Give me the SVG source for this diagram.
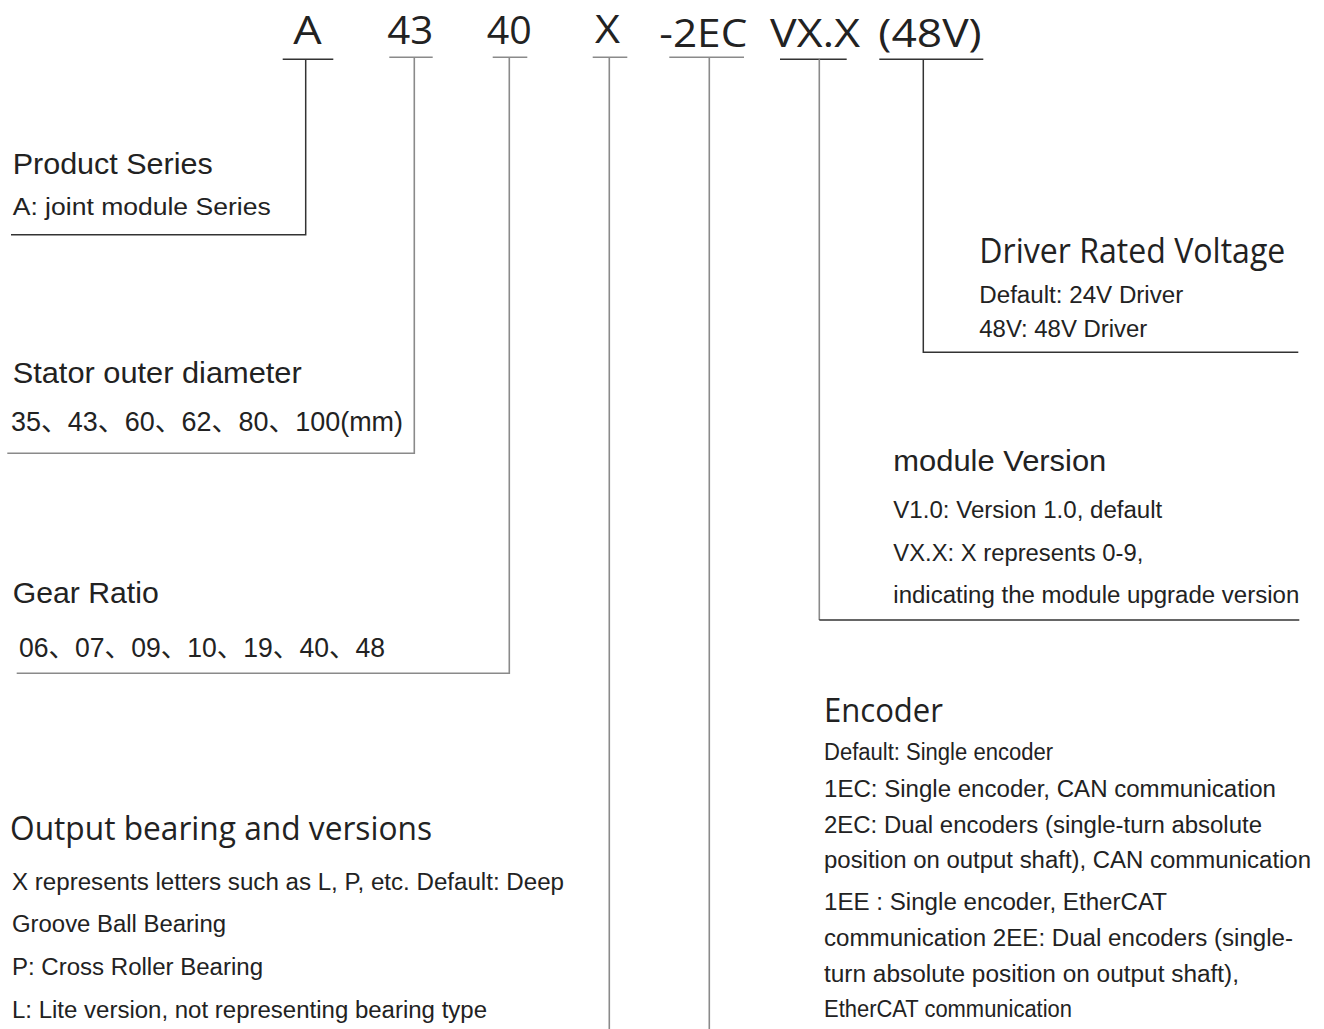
<svg xmlns="http://www.w3.org/2000/svg" width="1324" height="1029" viewBox="0 0 1324 1029">
<style>
.code{font-family:"Open Sans","Liberation Sans",sans-serif;font-size:39px;fill:#222}
.h-a{font-family:"Liberation Sans",Arial,sans-serif;fill:#222}
.h-s{font-family:"Open Sans","Liberation Sans",sans-serif;fill:#222}
.b{font-family:"Liberation Sans",Arial,sans-serif;fill:#222;font-size:23px}
.n{font-family:"Liberation Sans","Noto Sans CJK SC",sans-serif;fill:#222;font-size:27px}
.dk{stroke:#333;stroke-width:1.5;fill:none}
.gy{stroke:#8a8a8a;stroke-width:1.6;fill:none}
</style>
<rect width="1324" height="1029" fill="#fff"/>
<g id="code">
<text class="code" x="293.3" y="44.3" textLength="28.4" lengthAdjust="spacingAndGlyphs">A</text>
<text class="code" x="387.3" y="44.3" textLength="46" lengthAdjust="spacingAndGlyphs">43</text>
<text class="code" x="486.7" y="44.3" textLength="45" lengthAdjust="spacingAndGlyphs">40</text>
<text class="code" x="595" y="42.7" textLength="25" lengthAdjust="spacingAndGlyphs">X</text>
<text class="code" x="659.3" y="46.7" textLength="88" lengthAdjust="spacingAndGlyphs">-2EC</text>
<text class="code" x="770" y="46.7" textLength="90" lengthAdjust="spacingAndGlyphs">VX.X</text>
<text class="code" x="878.3" y="46.7" textLength="103.4" lengthAdjust="spacingAndGlyphs">(48V)</text>
</g>
<g id="connectors">
<path class="dk" d="M282.7 59.3H333.3M305.7 59.3V234.7H11"/>
<path class="gy" d="M389.3 57.3H432.7M414.3 57.3V453.3H7.3"/>
<path class="gy" d="M492.7 57.3H527.3M509.3 57.3V673.3H16.7"/>
<path class="gy" d="M592.7 57.3H627.3M609.3 57.3V1029"/>
<path class="gy" d="M669.3 57.3H744M709.3 57.3V1029"/>
<path class="dk" d="M780 59.3H846.7"/>
<path class="gy" d="M819.3 59.3V620"/>
<path class="dk" d="M819.3 620H1299.3"/>
<path class="dk" d="M879.3 59.3H983.3M923.3 59.3V352.3H1298.3"/>
</g>
<g id="product-series">
<text class="h-a" x="12.7" y="174" font-size="29" textLength="200" lengthAdjust="spacingAndGlyphs">Product Series</text>
<text class="b" x="12.7" y="215" font-size="24" textLength="258" lengthAdjust="spacingAndGlyphs">A: joint module Series</text>
</g>
<g id="stator">
<text class="h-a" x="12.7" y="382.7" font-size="29.5" textLength="289" lengthAdjust="spacingAndGlyphs">Stator outer diameter</text>
<text class="n" x="11" y="430.7" textLength="392" lengthAdjust="spacingAndGlyphs">35、43、60、62、80、100(mm)</text>
</g>
<g id="gear-ratio">
<text class="h-a" x="12.7" y="602.7" font-size="29.5" textLength="146" lengthAdjust="spacingAndGlyphs">Gear Ratio</text>
<text class="n" x="19" y="656.7" textLength="366" lengthAdjust="spacingAndGlyphs">06、07、09、10、19、40、48</text>
</g>
<g id="output-bearing">
<text class="h-s" x="10" y="840" font-size="32" textLength="422" lengthAdjust="spacingAndGlyphs">Output bearing and versions</text>
<text class="b" x="12" y="890" textLength="552" lengthAdjust="spacingAndGlyphs">X represents letters such as L, P, etc. Default: Deep</text>
<text class="b" x="12" y="932" textLength="214" lengthAdjust="spacingAndGlyphs">Groove Ball Bearing</text>
<text class="b" x="12" y="975" textLength="251" lengthAdjust="spacingAndGlyphs">P: Cross Roller Bearing</text>
<text class="b" x="12" y="1018" textLength="475" lengthAdjust="spacingAndGlyphs">L: Lite version, not representing bearing type</text>
</g>
<g id="driver-voltage">
<text class="h-s" x="979.3" y="263.3" font-size="34" textLength="306" lengthAdjust="spacingAndGlyphs">Driver Rated Voltage</text>
<text class="b" x="979.3" y="302.7" textLength="204" lengthAdjust="spacingAndGlyphs">Default: 24V Driver</text>
<text class="b" x="979.3" y="337.3" textLength="168" lengthAdjust="spacingAndGlyphs">48V: 48V Driver</text>
</g>
<g id="module-version">
<text class="h-a" x="893.3" y="471" font-size="29" textLength="213" lengthAdjust="spacingAndGlyphs">module Version</text>
<text class="b" x="893.3" y="518" textLength="269" lengthAdjust="spacingAndGlyphs">V1.0: Version 1.0, default</text>
<text class="b" x="893.3" y="560.5" textLength="250" lengthAdjust="spacingAndGlyphs">VX.X: X represents 0-9,</text>
<text class="b" x="893.3" y="603" textLength="406" lengthAdjust="spacingAndGlyphs">indicating the module upgrade version</text>
</g>
<g id="encoder">
<text class="h-s" x="824" y="722" font-size="32" textLength="119" lengthAdjust="spacingAndGlyphs">Encoder</text>
<text class="b" x="824" y="760" font-size="22" textLength="229" lengthAdjust="spacingAndGlyphs">Default: Single encoder</text>
<text class="b" x="824" y="796.5" font-size="22" textLength="452" lengthAdjust="spacingAndGlyphs">1EC: Single encoder, CAN communication</text>
<text class="b" x="824" y="832.5" font-size="22" textLength="438" lengthAdjust="spacingAndGlyphs">2EC: Dual encoders (single-turn absolute</text>
<text class="b" x="824" y="868.3" font-size="22" textLength="487" lengthAdjust="spacingAndGlyphs">position on output shaft), CAN communication</text>
<text class="b" x="824" y="910" font-size="22" textLength="343" lengthAdjust="spacingAndGlyphs">1EE : Single encoder, EtherCAT</text>
<text class="b" x="824" y="946" font-size="22" textLength="469" lengthAdjust="spacingAndGlyphs">communication 2EE: Dual encoders (single-</text>
<text class="b" x="824" y="981.7" font-size="22" textLength="415" lengthAdjust="spacingAndGlyphs">turn absolute position on output shaft),</text>
<text class="b" x="824" y="1016.7" font-size="22" textLength="248" lengthAdjust="spacingAndGlyphs">EtherCAT communication</text>
</g>
</svg>
